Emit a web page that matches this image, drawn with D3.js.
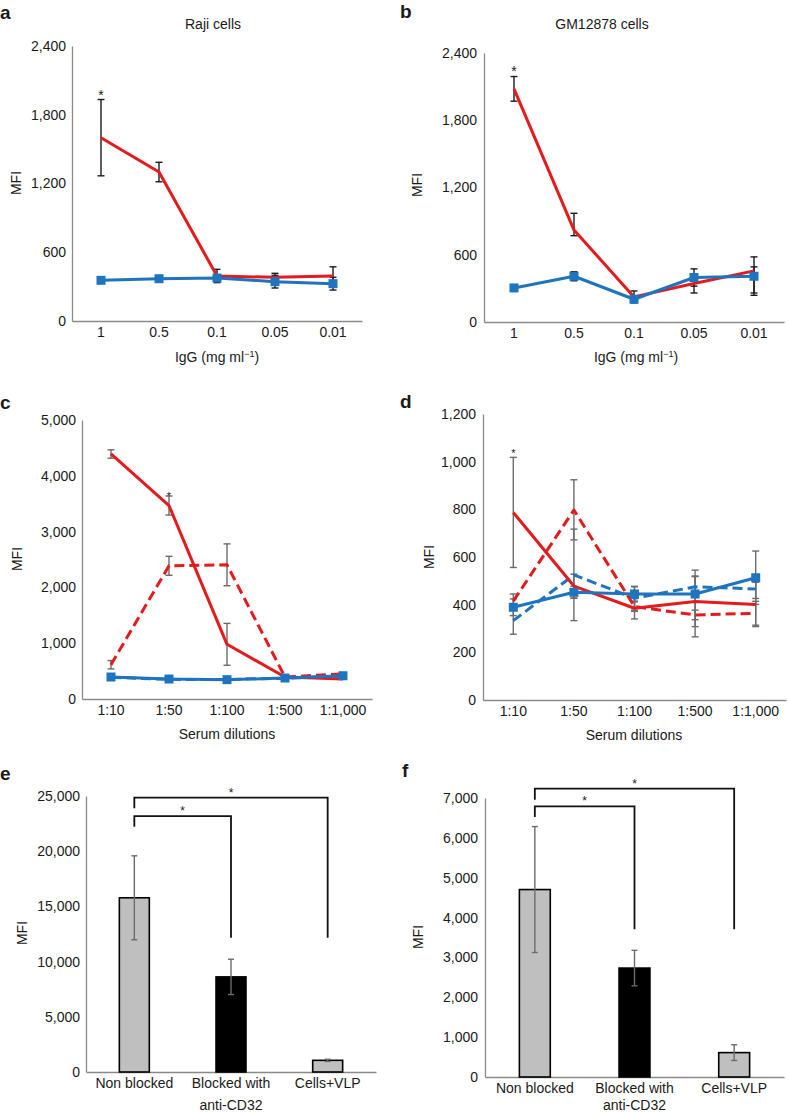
<!DOCTYPE html>
<html><head><meta charset="utf-8">
<script src="https://cdn.jsdelivr.net/npm/d3@7"></script>
<style>
body{margin:0;background:#fff}
svg{display:block}
text{font-family:'Liberation Sans',Arial,Helvetica,sans-serif;fill:#1a1a1a}
</style>
</head><body><svg id="chart" width="788" height="1113"></svg>
<script>
// ---------------- DATA ----------------
const igGCats = ["1", "0.5", "0.1", "0.05", "0.01"];
const serumCats = ["1:10", "1:50", "1:100", "1:500", "1:1,000"];
const barCats = ["Non blocked", "Blocked with|anti-CD32", "Cells+VLP"];

const aTicks = [0, 600, 1200, 1800, 2400];
const aRed = [1600, 1300, 393, 381, 393];
const aRedErr = [333, 85, 58, 35, 80];
const aBlue = [355, 369, 375, 343, 326];
const aBlueErr = [12, 12, 12, 55, 56];

const bTicks = [0, 600, 1200, 1800, 2400];
const bRed = [2080, 820, 224, 343, 456];
const bRedErr = [110, [50, 150], 53, 84, [218, 125]];
const bBlue = [304, 408, 203, 397, 408];
const bBlueErr = [10, 40, 10, 77, [149, 84]];

const cTicks = [0, 1000, 2000, 3000, 4000, 5000];
const cRed = [4391, 3467, 980, 394, 358];
const cRedErr = [75, 170, 375, 0, 0];
const cRedDash = [614, 2387, 2405, 394, 452];
const cRedDashErr = [75, 170, 375, 0, 0];
const cBlue = [394, 358, 346, 376, 417];
const cBlueDash = [388, 352, 350, 372, 412];

const dTicks = [0, 200, 400, 600, 800, 1000, 1200];
const dRed = [787, 478, 385, 413, 401];
const dRedErr = [231, 50, 45, 105, 93];
const dRedDash = [415, 797, 392, 357, 364];
const dRedDashErr = [30, [125, 127], 20, 20, 50];
const dBlue = [389, 452, 445, 445, 513];
const dBlueErr = [35, 25, 30, [180, 100], 112];
const dBlueDash = [333, 525, 427, 475, 466];
const dBlueDashErr = [57, 192, 50, 45, 40];

const eTicks = [0, 5000, 10000, 15000, 20000, 25000];
const eValues = [15780, 8615, 1058];
const eErr = [3800, 1600, 100];
const eFills = ["#bfbfbf", "#000000", "#bfbfbf"];
const eSig = [
  {from: 0, to: 1, top: 23186, left: 22219, right: 12152},
  {from: 0, to: 2, top: 24849, left: 23882, right: 12152}
];

const fTicks = [0, 1000, 2000, 3000, 4000, 5000, 6000, 7000];
const fValues = [4703, 2733, 612];
const fErr = [1580, 445, 197];
const fFills = ["#bfbfbf", "#000000", "#bfbfbf"];
const fSig = [
  {from: 0, to: 1, top: 6790, left: 6521, right: 3705},
  {from: 0, to: 2, top: 7234, left: 6957, right: 3705}
];

// ---------------- STYLE ----------------
const RED = "#e41a1c", BLUE = "#1f74bf", AXIS = "#8a8a8a";
const svg = d3.select("#chart");
const fmt = d3.format(",");

function errPair(e) { return Array.isArray(e) ? e : [e, e]; }

function axes(g, x, y, cfg, xLabels) {
  const ya = g.append("g").attr("transform", `translate(${cfg.x0},0)`)
    .call(d3.axisLeft(y).tickValues(cfg.ticks).tickFormat(fmt).tickSize(0).tickPadding(cfg.yPad || 6));
  ya.select(".domain").attr("stroke", AXIS).attr("stroke-width", 1.3);
  ya.selectAll("text").style("font-size", "14px").attr("fill", "#1a1a1a").style("font-family", "'Liberation Sans',Arial,sans-serif");
  const xa = g.append("g").attr("transform", `translate(0,${cfg.yBot})`)
    .call(d3.axisBottom(x).tickSize(0).tickPadding(6).tickFormat(xLabels ? d => d : ""));
  xa.select(".domain").attr("stroke", AXIS).attr("stroke-width", 1.3);
  xa.selectAll("text").style("font-size", "14px").attr("fill", "#1a1a1a").style("font-family", "'Liberation Sans',Arial,sans-serif");
  // y title
  g.append("text").attr("transform", `translate(${cfg.mfiX},${cfg.mfiY}) rotate(-90)`)
    .attr("text-anchor", "middle").attr("dy", "0.35em").style("font-size", "14px").text("MFI");
  // panel letter
  g.append("text").attr("x", cfg.lx).attr("y", cfg.ly).style("font-size", "19px").style("font-weight", "bold").text(cfg.letter);
  if (cfg.title) {
    g.append("text").attr("x", cfg.tx).attr("y", cfg.ty).attr("text-anchor", "middle").style("font-size", "14px").text(cfg.title);
  }
}

function linePanel(cfg) {
  const g = svg.append("g");
  const x = d3.scaleBand().domain(cfg.cats).range([cfg.x0, cfg.x1]);
  const y = d3.scaleLinear().domain([0, cfg.max]).range([cfg.yBot, cfg.yTop]);
  const cx = i => x(cfg.cats[i]) + x.bandwidth() / 2;
  axes(g, x, y, cfg, true);

  // x title
  const xt = g.append("text").attr("x", cfg.xtX).attr("y", cfg.xtY).attr("text-anchor", "middle").style("font-size", "14px");
  if (cfg.igg) {
    xt.append("tspan").text("IgG (mg ml");
    xt.append("tspan").attr("dy", -5).style("font-size", "9px").text("\u22121");
    xt.append("tspan").attr("dy", 5).text(")");
  } else {
    xt.text(cfg.xTitle);
  }

  // error bars
  cfg.series.forEach(s => {
    if (!s.err) return;
    s.values.forEach((v, i) => {
      const [dn, up] = errPair(s.err[i]);
      if (!dn && !up) return;
      const X = cx(i), y1 = y(v + up), y2 = y(v - dn);
      const eg = g.append("g").attr("stroke", cfg.errColor).attr("stroke-width", 1.4);
      eg.append("line").attr("x1", X).attr("x2", X).attr("y1", y1).attr("y2", y2);
      eg.append("line").attr("x1", X - 3.5).attr("x2", X + 3.5).attr("y1", y1).attr("y2", y1);
      eg.append("line").attr("x1", X - 3.5).attr("x2", X + 3.5).attr("y1", y2).attr("y2", y2);
    });
  });

  // lines
  const line = d3.line().x((d, i) => cx(i)).y(d => y(d));
  cfg.series.forEach(s => {
    g.append("path").datum(s.values).attr("d", line).attr("fill", "none")
      .attr("stroke", s.color).attr("stroke-width", 3).attr("stroke-linejoin", "round")
      .attr("stroke-dasharray", s.dash ? "10,5" : null);
    if (s.marker) {
      g.selectAll(null).data(s.values).enter().append("rect")
        .attr("x", (d, i) => cx(i) - 4.5).attr("y", d => y(d) - 4.5)
        .attr("width", 9).attr("height", 9).attr("fill", s.color);
    }
  });

  // significance star
  if (cfg.star) {
    const s = cfg.series[cfg.star.series];
    const i = cfg.star.index;
    const [dn, up] = errPair(s.err[i]);
    g.append("text").attr("x", cx(i)).attr("y", y(s.values[i] + up) - cfg.star.gap)
      .attr("text-anchor", "middle").style("font-size", cfg.star.size + "px").text("*");
  }
}

function barPanel(cfg) {
  const g = svg.append("g");
  const x = d3.scaleBand().domain(cfg.cats).range([cfg.x0, cfg.x1]);
  const y = d3.scaleLinear().domain([0, cfg.max]).range([cfg.yBot, cfg.yTop]);
  const cx = i => x(cfg.cats[i]) + x.bandwidth() / 2;
  const bw = x.bandwidth() * 0.31;
  axes(g, x, y, cfg, false);

  // category labels (multi-line)
  cfg.cats.forEach((c, i) => {
    const t = g.append("text").attr("x", cx(i)).attr("y", cfg.labY).attr("text-anchor", "middle").style("font-size", "14px");
    c.split("|").forEach((part, k) => {
      t.append("tspan").attr("x", cx(i)).attr("dy", k === 0 ? 0 : cfg.labGap).text(part);
    });
  });

  // bars
  g.selectAll(null).data(cfg.values).enter().append("rect")
    .attr("x", (d, i) => cx(i) - bw / 2).attr("y", d => y(d))
    .attr("width", bw).attr("height", d => cfg.yBot - y(d))
    .attr("fill", (d, i) => cfg.fills[i]).attr("stroke", "#000").attr("stroke-width", 1.6);

  // error bars
  cfg.values.forEach((v, i) => {
    const e = cfg.err[i], X = cx(i), y1 = y(v + e), y2 = y(v - e);
    const eg = g.append("g").attr("stroke", "#6b6b6b").attr("stroke-width", 1.4);
    eg.append("line").attr("x1", X).attr("x2", X).attr("y1", y1).attr("y2", y2);
    eg.append("line").attr("x1", X - 3).attr("x2", X + 3).attr("y1", y1).attr("y2", y1);
    eg.append("line").attr("x1", X - 3).attr("x2", X + 3).attr("y1", y2).attr("y2", y2);
  });

  // brackets
  cfg.sig.forEach(b => {
    const xa = cx(b.from), xb = cx(b.to);
    g.append("path").attr("d", `M${xa},${y(b.left)}V${y(b.top)}H${xb}V${y(b.right)}`)
      .attr("fill", "none").attr("stroke", "#111").attr("stroke-width", 1.8);
    g.append("text").attr("x", (xa + xb) / 2).attr("y", y(b.top) - 1).attr("text-anchor", "middle")
      .style("font-size", "12px").text("*");
  });
}

// ---------------- PANELS ----------------
linePanel({
  letter: "a", lx: 0, ly: 19, title: "Raji cells", tx: 213, ty: 29,
  cats: igGCats, x0: 72, x1: 362, yTop: 46, yBot: 321, max: 2400, ticks: aTicks,
  mfiX: 16, mfiY: 183, igg: true, xtX: 217, xtY: 362, errColor: "#1a1a1a",
  series: [
    {values: aRed, err: aRedErr, color: RED},
    {values: aBlue, err: aBlueErr, color: BLUE, marker: true}
  ],
  star: {series: 0, index: 0, gap: 0, size: 14}
});

linePanel({
  letter: "b", lx: 400, ly: 18, title: "GM12878 cells", tx: 602, ty: 29,
  cats: igGCats, x0: 484, x1: 784, yTop: 53, yBot: 322, max: 2400, ticks: bTicks, yPad: 7,
  mfiX: 417, mfiY: 185, igg: true, xtX: 636, xtY: 362, errColor: "#1a1a1a",
  series: [
    {values: bRed, err: bRedErr, color: RED},
    {values: bBlue, err: bBlueErr, color: BLUE, marker: true}
  ],
  star: {series: 0, index: 0, gap: 1, size: 14}
});

linePanel({
  letter: "c", lx: 0, ly: 409,
  cats: serumCats, x0: 82, x1: 372, yTop: 420, yBot: 699, max: 5000, ticks: cTicks,
  mfiX: 17, mfiY: 559, xTitle: "Serum dilutions", xtX: 227, xtY: 739, errColor: "#6b6b6b",
  series: [
    {values: cBlueDash, color: BLUE, dash: true},
    {values: cRedDash, err: cRedDashErr, color: RED, dash: true},
    {values: cRed, err: cRedErr, color: RED},
    {values: cBlue, color: BLUE, marker: true}
  ],
  star: {series: 2, index: 1, gap: -4, size: 11}
});

linePanel({
  letter: "d", lx: 400, ly: 408,
  cats: serumCats, x0: 483, x1: 786, yTop: 414, yBot: 700, max: 1200, ticks: dTicks, yPad: 7,
  mfiX: 429, mfiY: 557, xTitle: "Serum dilutions", xtX: 634, xtY: 740, errColor: "#6b6b6b",
  series: [
    {values: dBlueDash, err: dBlueDashErr, color: BLUE, dash: true},
    {values: dRedDash, err: dRedDashErr, color: RED, dash: true},
    {values: dRed, err: dRedErr, color: RED},
    {values: dBlue, err: dBlueErr, color: BLUE, marker: true}
  ],
  star: {series: 2, index: 0, gap: 0, size: 11}
});

barPanel({
  letter: "e", lx: 0, ly: 780,
  cats: barCats, x0: 86, x1: 376, yTop: 796, yBot: 1072, max: 25000, ticks: eTicks,
  mfiX: 22, mfiY: 933, labY: 1088, labGap: 22,
  values: eValues, err: eErr, fills: eFills, sig: eSig
});

barPanel({
  letter: "f", lx: 402, ly: 777,
  cats: barCats, x0: 485, x1: 784, yTop: 798, yBot: 1077, max: 7000, ticks: fTicks, yPad: 7,
  mfiX: 418, mfiY: 937, labY: 1093, labGap: 17,
  values: fValues, err: fErr, fills: fFills, sig: fSig
});
</script>
</body></html>
